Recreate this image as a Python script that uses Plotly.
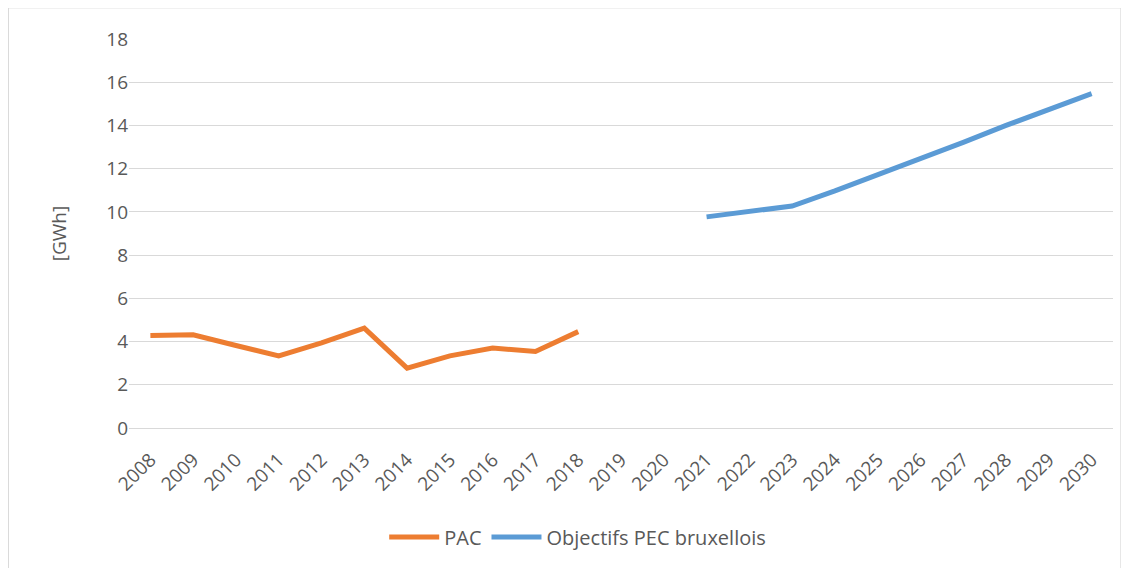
import plotly.graph_objects as go

years = [str(y) for y in range(2008, 2031)]
pac = [4.28, 4.31, 3.82, 3.34, 3.94, 4.62, 2.77, 3.34, 3.70, 3.54, 4.46] + [None] * 12
objectifs = [None] * 13 + [9.77, 10.0, 10.27, 10.97, 11.70, 12.45, 13.22, 14.0, 14.75, 15.47]

font_family = "Open Sans, Noto Sans, sans-serif"
text_color = "#595959"
grid_color = "#D9D9D9"

fig = go.Figure()
fig.add_trace(go.Scatter(
    x=years, y=pac, mode="lines", name="PAC",
    line=dict(color="#ED7D31", width=5), connectgaps=False
))
fig.add_trace(go.Scatter(
    x=years, y=objectifs, mode="lines", name="Objectifs PEC bruxellois",
    line=dict(color="#5B9BD5", width=5), connectgaps=False
))

# page body adds an 8px offset, margins account for it
fig.update_layout(
    width=1129, height=568,
    margin=dict(l=121, r=24, t=31, b=148),
    paper_bgcolor="white", plot_bgcolor="white",
    font=dict(family=font_family, size=19, color=text_color),
    showlegend=True,
    legend=dict(orientation="h", x=0.456, xanchor="center", y=-0.28, yanchor="middle",
                font=dict(size=20, color=text_color), itemwidth=50),
    xaxis=dict(type="category", range=[-0.5, 22.5], tickangle=-45, showgrid=False,
               showline=False, ticks="", tickfont=dict(size=19, color=text_color),
               ticklabelstandoff=16, zeroline=False),
    yaxis=dict(range=[0, 18], dtick=2, showgrid=True, gridcolor=grid_color, gridwidth=1,
               zeroline=True, zerolinecolor=grid_color, zerolinewidth=1, showline=False,
               ticks="", tickfont=dict(size=19, color=text_color),
               title=dict(text="[GWh]", font=dict(size=19, color=text_color), standoff=34)),
)

fig.add_shape(type="rect", xref="paper", yref="paper",
              x0=-0.1225, x1=1.008, y0=-0.42, y1=1.08,
              line=dict(color="#D9D9D9", width=1), fillcolor="rgba(0,0,0,0)", layer="below")

fig.write_html("out.html")
